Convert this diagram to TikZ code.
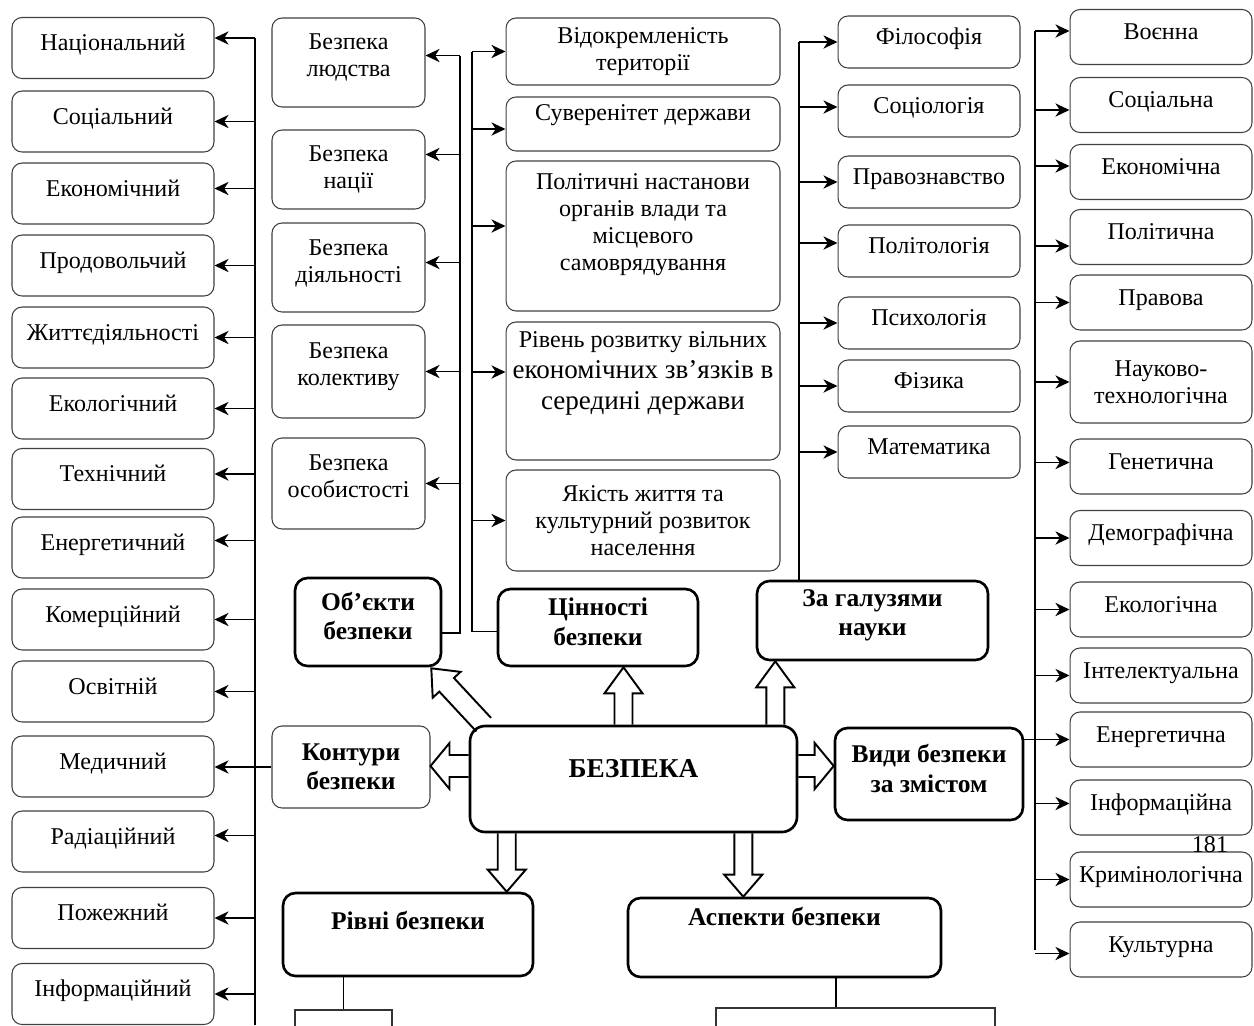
\documentclass[tikz,border=0pt]{standalone}
\usepackage{fontspec}
\setmainfont{Liberation Serif}
\usepackage{tikz}
\usetikzlibrary{calc}
\usetikzlibrary{arrows.meta}

\newcommand{\normtext}{\fontsize{13.7}{15.4}\selectfont}
\newcommand{\bigtext}{\fontsize{15.4}{17.6}\selectfont}
\newcommand{\boldtext}{\fontsize{14.5}{16.8}\selectfont\bfseries}
\newcommand{\maintext}{\fontsize{15.5}{18}\selectfont\bfseries}
% text pushed up inside a box: #1 = extra depth below the last line
\newcommand{\lifted}[2]{\begin{tabular}[b]{@{}c@{}}#2\end{tabular}\rule[-#1]{0pt}{#1}}
% hollow block arrow: start, tip, shaft half width, head half width, head length
\newcommand{\blockarrow}[5]{%
  \coordinate (ba-h) at ($(#2)!#5!(#1)$);
  \draw [blockline] ($(#1)!#3!90:(#2)$) -- ($(ba-h)!#3!-90:(#1)$) -- ($(ba-h)!#4!-90:(#1)$) -- (#2) -- ($(ba-h)!#4!90:(#1)$) -- ($(ba-h)!#3!90:(#1)$) -- ($(#1)!#3!-90:(#2)$);}

\tikzstyle{itembox} = [rectangle, rounded corners=0.2cm, draw=black!75, line width=0.6pt, text centered, align=center, font=\normtext, inner sep=1pt]
\tikzstyle{keybox} = [rectangle, rounded corners=0.25cm, draw=black, line width=1.5pt, text centered, align=center, font=\boldtext, inner sep=1pt]
\tikzstyle{oneline} = [text height=10pt, text depth=7pt]
\tikzstyle{leftbox} = [itembox, minimum width=4.04cm, minimum height=1.22cm]
\tikzstyle{objbox} = [itembox, minimum width=3.06cm]
\tikzstyle{valbox} = [itembox, minimum width=5.48cm]
\tikzstyle{scibox} = [itembox, minimum width=3.64cm, minimum height=1.04cm]
\tikzstyle{typebox} = [itembox, minimum width=3.64cm, minimum height=1.1cm]
\tikzstyle{subbox} = [rectangle, draw=black!80, line width=0.9pt, minimum height=1.2cm]
\tikzstyle{arrow} = [line width=1.1pt, -{Stealth[length=8pt, width=7.5pt, inset=2.5pt]}]
\tikzstyle{bus} = [line width=1.1pt]
\tikzstyle{blockline} = [line width=1.1pt, line join=miter]

\begin{document}
\begin{tikzpicture}[x=0.02cm, y=-0.02cm]
    \useasboundingbox (0,0) rectangle (1254,1025);
    \clip (0,0) rectangle (1254,1025);

    % left column
    \node (nat) [leftbox, oneline] at (113,48) {Національний};
    \node (socl) [leftbox, oneline] at (113,121.5) {Соціальний};
    \node (ekon) [leftbox, oneline] at (113,193.5) {Економічний};
    \node (prod) [leftbox, oneline] at (113,265.5) {Продовольчий};
    \node (zhyt) [leftbox, oneline] at (113,337.5) {Життєдіяльності};
    \node (ekol) [leftbox, oneline] at (113,408.5) {Екологічний};
    \node (tekh) [leftbox, oneline] at (113,479) {Технічний};
    \node (enel) [leftbox, oneline] at (113,547.5) {Енергетичний};
    \node (kom) [leftbox, oneline] at (113,619.5) {Комерційний};
    \node (osv) [leftbox, oneline] at (113,691.5) {Освітній};
    \node (med) [leftbox, oneline] at (113,766.5) {Медичний};
    \node (rad) [leftbox, oneline] at (113,841.5) {Радіаційний};
    \node (pozh) [leftbox, oneline] at (113,918) {Пожежний};
    \node (infl) [leftbox, oneline] at (113,994) {Інформаційний};

    % objects
    \node (lud) [objbox, minimum height=1.78cm] at (348.5,62.5) {\lifted{9.8pt}{Безпека\\людства}};
    \node (nac) [objbox, minimum height=1.58cm] at (348.5,169.5) {Безпека\\нації};
    \node (dil) [objbox, minimum height=1.78cm] at (348.5,267.5) {\lifted{8.6pt}{Безпека\\діяльності}};
    \node (kol) [objbox, minimum height=1.86cm] at (348.5,371.5) {\lifted{10.3pt}{Безпека\\колективу}};
    \node (osob) [objbox, minimum height=1.82cm] at (348.5,483.5) {\lifted{9.8pt}{Безпека\\особистості}};

    % values
    \node (vid) [valbox, minimum height=1.34cm] at (643,51.5) {Відокремленість\\території};
    \node (suv) [valbox, minimum height=1.08cm] at (643,124) {\lifted{14.8pt}{Суверенітет держави}};
    \node (pol) [valbox, minimum height=3cm] at (643,236) {\lifted{17.2pt}{Політичні настанови\\органів влади та\\місцевого\\самоврядування}};
    \node (rive) [valbox, minimum height=2.76cm, font=\bigtext] at (643,391) {\lifted{26.9pt}{{\normtext Рівень розвитку вільних}\\економічних зв’язків в\\середині держави}};
    \node (yak) [valbox, minimum height=2.02cm] at (643,520.5) {Якість життя та\\культурний розвиток\\населення};

    % sciences
    \node (fil) [scibox, oneline] at (929,42) {Філософія};
    \node (soci) [scibox, oneline] at (929,111) {Соціологія};
    \node (prav) [scibox, oneline] at (929,182) {Правознавство};
    \node (polit) [scibox, oneline] at (929,251) {Політологія};
    \node (psy) [scibox, oneline] at (929,323) {Психологія};
    \node (fiz) [scibox, oneline] at (929,386) {Фізика};
    \node (mat) [scibox, oneline] at (929,452) {Математика};

    % kinds
    \node (voe) [typebox, oneline] at (1161,37) {Воєнна};
    \node (soca) [typebox, oneline] at (1161,105) {Соціальна};
    \node (ekona) [typebox, oneline] at (1161,172) {Економічна};
    \node (polt) [typebox, oneline] at (1161,237) {Політична};
    \node (prava) [typebox, oneline] at (1161,302.5) {Правова};
    \node (nauk) [typebox, minimum height=1.64cm] at (1161,382) {Науково-\\технологічна};
    \node (gen) [typebox, oneline] at (1161,466.5) {Генетична};
    \node (dem) [typebox, oneline] at (1161,538) {Демографічна};
    \node (ekola) [typebox, oneline] at (1161,609.5) {Екологічна};
    \node (intel) [typebox, oneline] at (1161,675.5) {Інтелектуальна};
    \node (enera) [typebox, oneline] at (1161,739.5) {Енергетична};
    \node (infa) [typebox, oneline] at (1161,807.5) {Інформаційна};
    \node (krim) [typebox, oneline] at (1161,879.5) {Кримінологічна};
    \node (kult) [typebox, oneline] at (1161,949.5) {Культурна};
    \node (page) [font=\normtext] at (1210,845) {181};

    % key boxes
    \node (bez) [keybox, rounded corners=0.3cm, minimum width=6.54cm, minimum height=2.12cm, font=\maintext] at (633.5,779) {\lifted{14.6pt}{БЕЗПЕКА}};
    \node (ob) [keybox, minimum width=2.92cm, minimum height=1.76cm] at (368,622) {\lifted{8.4pt}{Об’єкти\\безпеки}};
    \node (cin) [keybox, minimum width=4cm, minimum height=1.54cm] at (598,627.5) {\lifted{8.4pt}{Цінності\\безпеки}};
    \node (gal) [keybox, minimum width=4.62cm, minimum height=1.58cm] at (872.5,620.5) {\lifted{11.2pt}{За галузями\\науки}};
    \node (kont) [itembox, font=\boldtext, minimum width=3.16cm, minimum height=1.64cm] at (351,767) {Контури\\безпеки};
    \node (vidy) [keybox, minimum width=3.76cm, minimum height=1.84cm] at (929,774) {\lifted{7.8pt}{Види безпеки\\за змістом}};
    \node (riv) [keybox, minimum width=5cm, minimum height=1.66cm] at (408,934.5) {\lifted{18pt}{Рівні безпеки}};
    \node (asp) [keybox, minimum width=6.26cm, minimum height=1.58cm] at (784.5,937.5) {\lifted{25pt}{Аспекти безпеки}};
    \node (rsub) [subbox, minimum width=1.94cm] at (343.5,1040) {};
    \node (asub) [subbox, minimum width=5.58cm] at (855.5,1038) {};

    % left bus
    \coordinate (lbus) at (255,0);
    \coordinate (lbus-end) at (255,1025);
    \draw [bus] ($(lbus |- nat.east)+(0,-10)$) -- (lbus-end);
    \draw [arrow] ($(lbus |- nat.east)+(0,-10)$) -- ($(nat.east)+(0,-10)$);
    \draw [arrow] (lbus |- socl.east) -- (socl.east);
    \draw [arrow] ($(lbus |- ekon.east)+(0,-5)$) -- ($(ekon.east)+(0,-5)$);
    \draw [arrow] (lbus |- prod.east) -- (prod.east);
    \draw [arrow] (lbus |- zhyt.east) -- (zhyt.east);
    \draw [arrow] (lbus |- ekol.east) -- (ekol.east);
    \draw [arrow] ($(lbus |- tekh.east)+(0,-5)$) -- ($(tekh.east)+(0,-5)$);
    \draw [arrow] ($(lbus |- enel.east)+(0,-7)$) -- ($(enel.east)+(0,-7)$);
    \draw [arrow] (lbus |- kom.east) -- (kom.east);
    \draw [arrow] (lbus |- osv.east) -- (osv.east);
    \draw [arrow] (kont.west) -- (med.east |- kont.west);
    \draw [arrow] ($(lbus |- rad.east)+(0,-6)$) -- ($(rad.east)+(0,-6)$);
    \draw [arrow] (lbus |- pozh.east) -- (pozh.east);
    \draw [arrow] (lbus |- infl.east) -- (infl.east);

    % objects bus
    \coordinate (obus) at (460,0);
    \coordinate (ob-link) at ($(ob.east)+(0,11)$);
    \draw [bus] (ob-link) -| ($(obus |- lud.east)+(0,-7)$);
    \draw [arrow] ($(obus |- lud.east)+(0,-7)$) -- ($(lud.east)+(0,-7)$);
    \draw [arrow] ($(obus |- nac.east)+(0,-15)$) -- ($(nac.east)+(0,-15)$);
    \draw [arrow] ($(obus |- dil.east)+(0,-5)$) -- ($(dil.east)+(0,-5)$);
    \draw [arrow] (obus |- kol.east) -- (kol.east);
    \draw [arrow] (obus |- osob.east) -- (osob.east);

    % values bus
    \coordinate (vbus) at (472,0);
    \draw [bus] ($(cin.west)+(0,4)$) -| (vbus |- vid.west);
    \draw [arrow] (vbus |- vid.west) -- (vid.west);
    \draw [arrow] ($(vbus |- suv.west)+(0,5)$) -- ($(suv.west)+(0,5)$);
    \draw [arrow] ($(vbus |- pol.west)+(0,-10)$) -- ($(pol.west)+(0,-10)$);
    \draw [arrow] ($(vbus |- rive.west)+(0,-19)$) -- ($(rive.west)+(0,-19)$);
    \draw [arrow] (vbus |- yak.west) -- (yak.west);

    % sciences bus
    \coordinate (sbus) at (799,0);
    \draw [bus] (sbus |- gal.north) -- (sbus |- fil.west);
    \draw [arrow] (sbus |- fil.west) -- (fil.west);
    \draw [arrow] ($(sbus |- soci.west)+(0,-4)$) -- ($(soci.west)+(0,-4)$);
    \draw [arrow] (sbus |- prav.west) -- (prav.west);
    \draw [arrow] ($(sbus |- polit.west)+(0,-8)$) -- ($(polit.west)+(0,-8)$);
    \draw [arrow] (sbus |- psy.west) -- (psy.west);
    \draw [arrow] (sbus |- fiz.west) -- (fiz.west);
    \draw [arrow] (sbus |- mat.west) -- (mat.west);

    % kinds bus
    \coordinate (tbus) at (1035,0);
    \draw [bus] ($(tbus |- voe.west)+(0,-6)$) -- (tbus |- kult.west);
    \draw [arrow] ($(tbus |- voe.west)+(0,-6)$) -- ($(voe.west)+(0,-6)$);
    \draw [arrow] ($(tbus |- soca.west)+(0,5)$) -- ($(soca.west)+(0,5)$);
    \draw [arrow] ($(tbus |- ekona.west)+(0,-6)$) -- ($(ekona.west)+(0,-6)$);
    \draw [arrow] ($(tbus |- polt.west)+(0,9)$) -- ($(polt.west)+(0,9)$);
    \draw [arrow] (tbus |- prava.west) -- (prava.west);
    \draw [arrow] (tbus |- nauk.west) -- (nauk.west);
    \draw [arrow] ($(tbus |- gen.west)+(0,-4)$) -- ($(gen.west)+(0,-4)$);
    \draw [arrow] (tbus |- dem.west) -- (dem.west);
    \draw [arrow] (tbus |- ekola.west) -- (ekola.west);
    \draw [arrow] (tbus |- intel.west) -- (intel.west);
    \draw [arrow] (vidy.east |- enera.west) -- (enera.west);
    \draw [arrow] ($(tbus |- infa.west)+(0,-4)$) -- ($(infa.west)+(0,-4)$);
    \draw [arrow] (tbus |- krim.west) -- (krim.west);
    \draw [arrow] ($(tbus |- kult.west)+(0,4)$) -- ($(kult.west)+(0,4)$);

    % links to the lower boxes
    \draw [bus, line width=0.9pt] (rsub.north) -- (rsub.north |- riv.south);
    \coordinate (asp-link) at ($(asp.south)+(51.5,0)$);
    \draw [bus, line width=0.9pt] (asp-link) -- (asp-link |- asub.north);

    % hollow arrows from the centre
    \coordinate (ob-from) at ($(bez.north west)+(15,0)$);
    \coordinate (ob-to) at ($(ob.south east)+(-11,1)$);
    \blockarrow{ob-from}{ob-to}{0.2cm}{0.38cm}{0.45cm}
    \coordinate (cin-from) at ($(bez.north)+(-10,0)$);
    \coordinate (cin-to) at (cin-from |- cin.south);
    \blockarrow{cin-from}{cin-to}{0.18cm}{0.38cm}{0.52cm}
    \coordinate (gal-from) at ($(bez.north east)+(-23,0)$);
    \coordinate (gal-to) at (gal-from |- gal.south);
    \blockarrow{gal-from}{gal-to}{0.18cm}{0.38cm}{0.52cm}
    \coordinate (kont-from) at ($(bez.west)+(0,-13)$);
    \coordinate (kont-to) at (kont.east |- kont-from);
    \blockarrow{kont-from}{kont-to}{0.22cm}{0.46cm}{0.38cm}
    \coordinate (vidy-from) at ($(bez.east)+(0,-13)$);
    \coordinate (vidy-to) at (vidy.west |- vidy-from);
    \blockarrow{vidy-from}{vidy-to}{0.22cm}{0.46cm}{0.38cm}
    \coordinate (riv-from) at ($(bez.south west)+(38,0)$);
    \coordinate (riv-to) at (riv-from |- riv.north);
    \blockarrow{riv-from}{riv-to}{0.18cm}{0.38cm}{0.44cm}
    \coordinate (asp-from) at ($(bez.south east)+(-55,0)$);
    \coordinate (asp-to) at (asp-from |- asp.north);
    \blockarrow{asp-from}{asp-to}{0.18cm}{0.38cm}{0.44cm}
\end{tikzpicture}
\end{document}
